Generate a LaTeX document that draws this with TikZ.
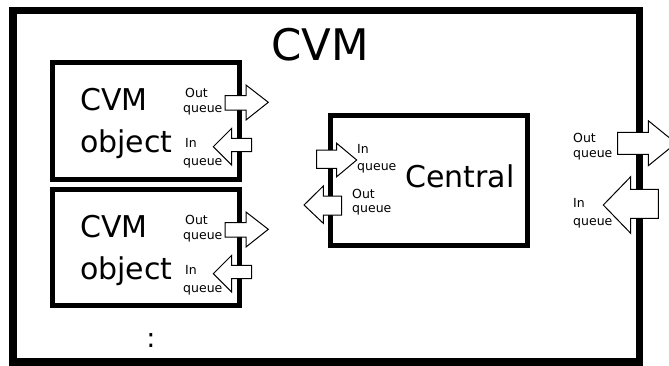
\documentclass[tikz,border=0pt]{standalone}
\usepackage{fontspec}
\setmainfont{DejaVu Sans}
\begin{document}
\begin{tikzpicture}[x=1bp,y=-1bp,
  outerbox/.style={draw,line width=7.5bp,minimum width=626.5bp,minimum height=351.5bp,inner sep=0pt},
  innerbox/.style={draw,line width=5bp,inner sep=0pt},
  qarrow/.style={draw,fill=white,line width=1bp,line join=miter},
  big/.style={inner sep=0pt,font=\fontsize{30bp}{36bp}\selectfont},
  huge/.style={inner sep=0pt,font=\fontsize{43.5bp}{50bp}\selectfont},
  small/.style={inner sep=0pt,font=\fontsize{12.5bp}{15bp}\selectfont}]
\useasboundingbox (0,0) rectangle (669,365);
% boxes
\node[outerbox] (cvm) at (326.25,186.25) {};
\node[innerbox,minimum width=187bp,minimum height=117bp] (obj1) at (146,121) {};
\node[innerbox,minimum width=187bp,minimum height=116bp] (obj2) at (146,247.5) {};
\node[innerbox,minimum width=197bp,minimum height=130bp] (central) at (429,180.5) {};
% object 1 arrows
\draw[qarrow] (225,95.7) -- (246,95.7) -- (246,85) -- (268.3,102.3) -- (246,120) -- (246,110) -- (225,110) -- cycle;
\draw[qarrow] (251.7,138.3) -- (231.7,138.3) -- (231.7,128.3) -- (213.3,146.7) -- (231.7,165) -- (231.7,151.7) -- (251.7,151.7) -- cycle;
% object 2 arrows
\begin{scope}[yshift=-127bp]
\draw[qarrow] (225,95.7) -- (246,95.7) -- (246,85) -- (268.3,102.3) -- (246,120) -- (246,110) -- (225,110) -- cycle;
\draw[qarrow] (251.7,138.3) -- (231.7,138.3) -- (231.7,128.3) -- (213.3,146.7) -- (231.7,165) -- (231.7,151.7) -- (251.7,151.7) -- cycle;
\end{scope}
% central arrows
\draw[qarrow] (316.7,150) -- (336.7,150) -- (336.7,143.3) -- (356.7,160) -- (336.7,176.7) -- (336.7,168.3) -- (316.7,168.3) -- cycle;
\draw[qarrow] (341.7,196) -- (323.3,196) -- (323.3,186) -- (304,205) -- (323.3,223.3) -- (323.3,215) -- (341.7,215) -- cycle;
% outer arrows
\draw[qarrow] (617.7,132.3) -- (648.3,132.3) -- (648.3,120.7) -- (676,143.2) -- (648.3,165.7) -- (648.3,154.3) -- (617.7,154.3) -- cycle;
\draw[qarrow] (658.3,189.3) -- (630.7,189.3) -- (630.7,176.7) -- (603.3,205) -- (630.7,233.3) -- (630.7,218.3) -- (658.3,218.3) -- cycle;
% texts
\node[huge,anchor=base] (title) at (320,60) {CVM};
\node[big,anchor=base west] (o1a) at (80,110) {CVM};
\node[big,anchor=base west] (o1b) at (80,152) {object};
\node[big,anchor=base west] (o2a) at (80,237) {CVM};
\node[big,anchor=base west] (o2b) at (80,279) {object};
\node[small,anchor=base west] (o1out) at (185,97) {Out};
\node[small,anchor=base west] (o1outq) at (183,112.5) {queue};
\node[small,anchor=base west] (o1in) at (185,147) {In};
\node[small,anchor=base west] (o1inq) at (183,165) {queue};
\node[small,anchor=base west] (o2out) at (185,224) {Out};
\node[small,anchor=base west] (o2outq) at (183,239.5) {queue};
\node[small,anchor=base west] (o2in) at (185,274) {In};
\node[small,anchor=base west] (o2inq) at (183,292) {queue};
\node[big,anchor=base west] (ctext) at (405,187) {Central};
\node[small,anchor=base west] (cin) at (357,153.3) {In};
\node[small,anchor=base west] (cinq) at (357,170.3) {queue};
\node[small,anchor=base west] (cout) at (352,198.3) {Out};
\node[small,anchor=base west] (coutq) at (352,212) {queue};
\node[small,anchor=base west] (rout) at (573,142.5) {Out};
\node[small,anchor=base west] (routq) at (573,157) {queue};
\node[small,anchor=base west] (rin) at (573,207.5) {In};
\node[small,anchor=base west] (rinq) at (573,225) {queue};
\node[inner sep=0pt,font=\fontsize{27bp}{30bp}\selectfont,anchor=base] (dots) at (151,347) {:};
\end{tikzpicture}
\end{document}
